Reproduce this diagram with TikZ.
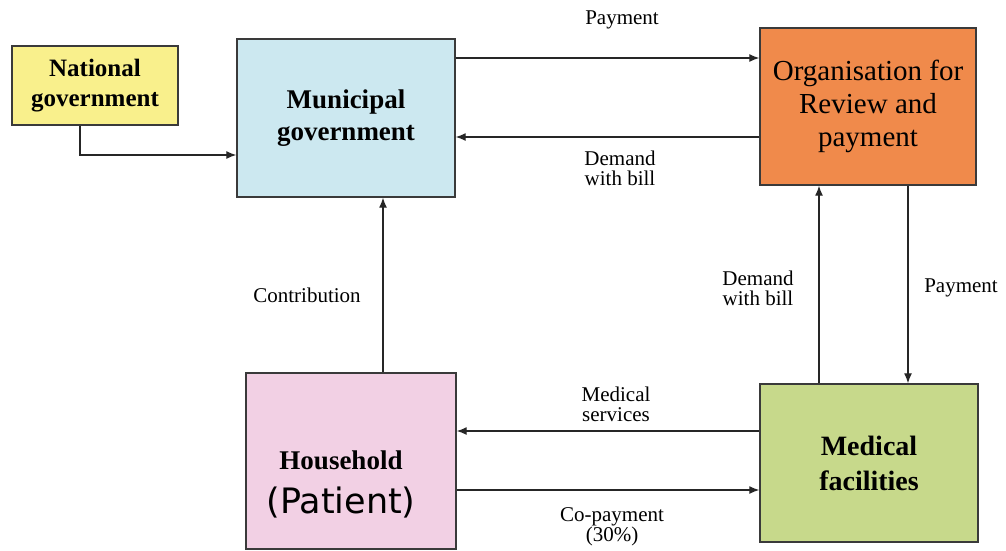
\documentclass[tikz,border=0pt]{standalone}
\usepackage{fontspec}
\setmainfont{Liberation Serif}
\newfontfamily\patientfont{DejaVu Sans}
\usetikzlibrary{positioning, arrows.meta, calc}
\definecolor{natyellow}{HTML}{F9F08C}
\definecolor{munblue}{HTML}{CCE8F0}
\definecolor{orgorange}{HTML}{F08A4B}
\definecolor{hhpink}{HTML}{F2D0E4}
\definecolor{medgreen}{HTML}{C7D98B}
\definecolor{boxline}{HTML}{3A3A3A}

\begin{document}
\begin{tikzpicture}[x=1pt, y=-1pt, font=\fontsize{21}{20}\selectfont,
    box/.style={draw=boxline, line width=1.4pt, inner sep=0pt, align=center},
    flow/.style={draw=black!85, line width=1.3pt, -{Latex[length=10pt,width=8pt]}},
    lbl/.style={align=center, inner sep=0pt}]
    \useasboundingbox (0,0) rectangle (1006,550);
    % boxes
    \node[box, fill=natyellow, minimum width=166pt, minimum height=79pt,
          font=\fontsize{25}{30}\selectfont\bfseries] (nat) at (95,85.5) {National\\ government};
    \node[box, fill=munblue, minimum width=218pt, minimum height=158pt,
          font=\fontsize{27}{32}\selectfont\bfseries] (mun) at (346,118) {Municipal\\ government};
    \node[box, fill=orgorange, minimum width=216pt, minimum height=157pt,
          font=\fontsize{29}{33}\selectfont] (org) at (868,106.5) {Organisation for\\ Review and\\ payment};
    \node[box, fill=hhpink, minimum width=210pt, minimum height=176pt] (hh) at (351,461) {};
    \node[lbl, font=\fontsize{27}{44}\selectfont\bfseries] (hhtext) at (341,484)
      {Household\\ {\patientfont\fontsize{35}{44}\selectfont\mdseries (Patient)}};
    \node[box, fill=medgreen, minimum width=218pt, minimum height=158pt,
          font=\fontsize{28}{35}\selectfont\bfseries] (med) at (869,463) {Medical\\ facilities};
    % connectors
    \draw[flow] ([xshift=-15pt]nat.south) |- ([yshift=-37pt]mun.west);
    \draw[flow] ([yshift=60pt]mun.east) -- ([yshift=60pt]mun.east -| org.west);
    \draw[flow] ([yshift=-19pt]mun.east -| org.west) -- ([yshift=-19pt]mun.east);
    \draw[flow] ([xshift=32pt]hh.north) -- ([xshift=32pt]hh.north |- mun.south);
    \draw[flow] ([xshift=-50pt]med.north) -- ([xshift=-50pt]med.north |- org.south);
    \draw[flow] ([xshift=39pt]med.north |- org.south) -- ([xshift=39pt]med.north);
    \draw[flow] ([yshift=32pt]med.west) -- ([yshift=32pt]med.west -| hh.east);
    \draw[flow] ([yshift=-27pt]med.west -| hh.east) -- ([yshift=-27pt]med.west);
    % connector labels
    \node[lbl] (paytop) at (622,20) {Payment};
    \node[lbl] (demtop) at (620,168) {Demand\\ with bill};
    \node[lbl] (contrib) at (307,295) {Contribution};
    \node[lbl] (demright) at (758,288) {Demand\\ with bill};
    \node[lbl] (payright) at (961,288) {Payment};
    \node[lbl] (medserv) at (616,404) {Medical\\ services};
    \node[lbl] (copay) at (612,527) {Co-payment\\ (30\%)};
\end{tikzpicture}
\end{document}
